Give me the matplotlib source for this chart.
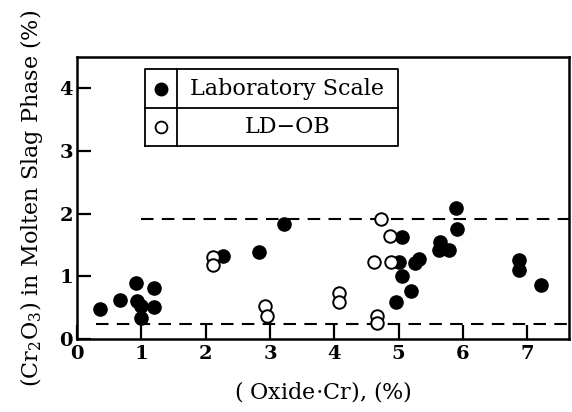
import matplotlib
matplotlib.use("Agg")
import matplotlib.pyplot as plt
from matplotlib.lines import Line2D

# Laboratory scale (filled circles)
lab_x = [0.36, 0.67, 0.92, 0.94, 0.99, 0.99, 1.19, 1.20, 2.27, 2.83, 3.22,
         4.96, 5.00, 5.05, 5.06, 5.20, 5.25, 5.31, 5.63, 5.65, 5.78, 5.90, 5.91,
         6.87, 6.87, 7.22]
lab_y = [0.48, 0.62, 0.89, 0.61, 0.52, 0.33, 0.82, 0.51, 1.32, 1.39, 1.84,
         0.59, 1.23, 1.01, 1.63, 0.77, 1.21, 1.28, 1.42, 1.54, 1.42, 2.09, 1.75,
         1.26, 1.10, 0.86]

# LD-OB (open circles)
ldob_x = [2.12, 2.12, 2.93, 2.95, 4.08, 4.08, 4.62, 4.66, 4.66, 4.72, 4.86, 4.89]
ldob_y = [1.31, 1.18, 0.52, 0.36, 0.73, 0.59, 1.23, 0.37, 0.25, 1.92, 1.64, 1.23]

# dashed bounds: (x start, level)
upper_bound = (1.0, 1.92)
lower_bound = (0.3, 0.24)

plt.rcParams["font.family"] = "DejaVu Serif"
plt.rcParams["mathtext.fontset"] = "dejavuserif"

fig = plt.figure(figsize=(5.72, 4.12), dpi=100)
ax = fig.add_axes([77/572, 1 - 339/412, 492/572, 282/412])

ax.plot(lab_x, lab_y, "o", color="black", ms=9.5, zorder=3)
ax.plot(ldob_x, ldob_y, "o", mfc="white", mec="black", mew=1.4, ms=9, zorder=3)

xmax = 7.65
for x0, lev in (upper_bound, lower_bound):
    ax.plot([x0, xmax], [lev, lev], color="black", lw=1.5, ls=(0, (6, 4)), zorder=2)

ax.set_xlim(0, xmax)
ax.set_ylim(0, 4.5)
ax.set_xticks(range(0, 8))
ax.set_yticks(range(0, 5))
ax.tick_params(direction="in", length=10, width=1.6, labelsize=14)
ax.tick_params(axis="x", pad=4)
ax.tick_params(axis="y", pad=3)
for lab in ax.get_xticklabels() + ax.get_yticklabels():
    lab.set_fontweight("bold")
for s in ax.spines.values():
    s.set_linewidth(1.8)

ax.set_xlabel("( Oxide$\\cdot$Cr), (%)", fontsize=16, labelpad=12)
ax.set_ylabel("(Cr$_2$O$_3$) in Molten Slag Phase (%)", fontsize=16, labelpad=10)

# boxed legend
x0, x1, xd = 0.138, 0.652, 0.203
yb, ym, yt = 0.684, 0.819, 0.957
kw = dict(color="black", lw=1.3, transform=ax.transAxes, zorder=4)
ax.add_line(Line2D([x0, x1, x1, x0, x0], [yb, yb, yt, yt, yb], **kw))
ax.add_line(Line2D([x0, x1], [ym, ym], **kw))
ax.add_line(Line2D([xd, xd], [yb, yt], **kw))
ax.plot([(x0 + xd) / 2], [(ym + yt) / 2], "o", color="black", ms=9, transform=ax.transAxes)
ax.plot([(x0 + xd) / 2], [(yb + ym) / 2], "o", mfc="white", mec="black", mew=1.3, ms=8.5,
        transform=ax.transAxes)
ax.text((xd + x1) / 2, (ym + yt) / 2, "Laboratory Scale", fontsize=16, ha="center",
        va="center", transform=ax.transAxes)
ax.text((xd + x1) / 2, (yb + ym) / 2, "LD\u2212OB", fontsize=16, ha="center",
        va="center", transform=ax.transAxes)

fig.savefig("out.png", dpi=100)
